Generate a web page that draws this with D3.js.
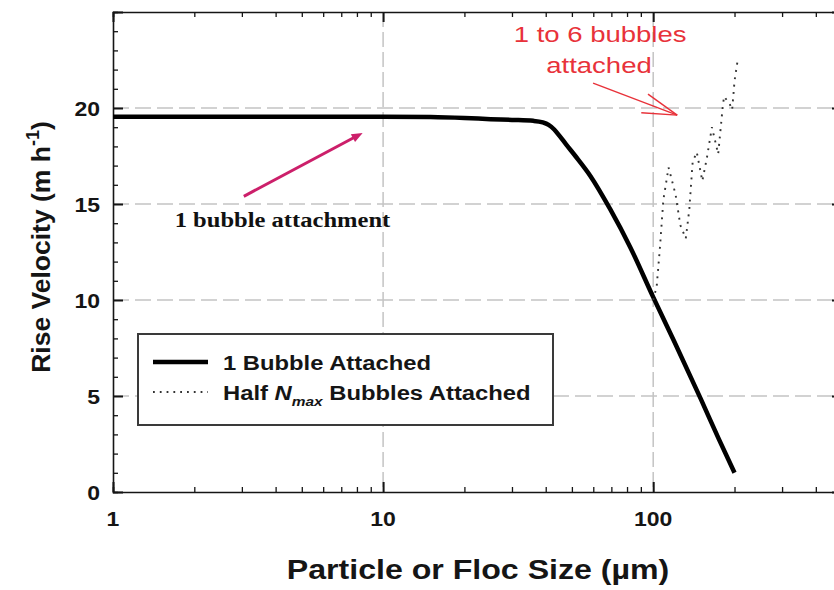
<!DOCTYPE html>
<html><head><meta charset="utf-8">
<script src="https://cdn.jsdelivr.net/npm/d3@7"></script>
<style>body{margin:0;background:#fff} svg{display:block}</style>
</head><body><svg id="c" width="834" height="590"></svg>
<script>
// ---- data ----
const oneBubbleX = [1, 2, 5, 10, 15, 20, 25, 30, 36, 39, 41, 43, 45, 47.5, 51.5, 58.6, 69.3, 82.3, 100, 120, 150, 175, 200];
const oneBubbleY = [19.55, 19.55, 19.55, 19.55, 19.53, 19.48, 19.42, 19.38, 19.33, 19.25, 19.12, 18.88, 18.55, 18.12, 17.5, 16.45, 14.73, 12.74, 10.15, 7.8, 4.85, 2.75, 1.0];
const halfNmaxX = [100, 103, 106, 109, 114, 121, 126, 132, 136, 140, 145, 152, 158, 165, 174, 181, 183, 192, 196, 200, 205];
const halfNmaxY = [10.0, 10.7, 12.8, 15.2, 16.9, 15.5, 13.9, 13.2, 14.7, 17.2, 17.7, 16.2, 17.4, 19.0, 17.6, 20.1, 20.6, 20.2, 19.9, 21.4, 22.4];
const xTickLabels = [1, 10, 100];
const yTickLabels = [0, 5, 10, 15, 20];
const xGrid = [10, 100];
const yGrid = [5, 10, 15, 20];
const seriesNames = ["1 Bubble Attached", "Half N_max Bubbles Attached"];
const xTitle = "Particle or Floc Size (µm)";
const yTitle = "Rise Velocity (m h";
const noteBubble = "1 bubble attachment";
const noteRed = ["1 to 6 bubbles", "attached"];

// ---- setup ----
const svg = d3.select("#c");
const W = 834, H = 590;
const x = d3.scaleLog().domain([1, 500]).range([113, 842]);
const y = d3.scaleLinear().domain([0, 25]).range([492, 12]);
const SANS = "'Liberation Sans', Arial, Helvetica, sans-serif";
const SERIF = "'Liberation Serif', 'Times New Roman', serif";
const INK = "#151515";

function stext(parent, px, py, str, o) {
  const t = parent.append("text")
    .attr("transform", `translate(${px},${py}) scale(${o.sx || 1},1)`)
    .attr("text-anchor", o.anchor || "start")
    .style("font-family", o.family || SANS)
    .style("font-size", o.size + "px")
    .style("font-weight", o.weight || "bold")
    .attr("fill", o.fill || INK);
  if (str !== null) t.text(str);
  return t;
}

svg.append("rect").attr("width", W).attr("height", H).attr("fill", "#fff");

// gridlines
const grid = svg.append("g");
grid.selectAll("line.gx").data(xGrid).join("line")
  .attr("x1", d => x(d)).attr("x2", d => x(d)).attr("y1", y(25)).attr("y2", y(0))
  .attr("stroke", "#c4c4c4").attr("stroke-width", 1.5).attr("stroke-dasharray", "15,5");
grid.selectAll("line.gy").data(yGrid).join("line")
  .attr("x1", x(1)).attr("x2", x(500)).attr("y1", d => y(d)).attr("y2", d => y(d))
  .attr("stroke", "#c4c4c4").attr("stroke-width", 1.5).attr("stroke-dasharray", "16,6");

// axes with inward ticks
const xt = x.ticks();
const yt = d3.range(0, 26, 1);
const isMajX = d => Math.abs(Math.log10(d) - Math.round(Math.log10(d))) < 1e-9;
function styleAxis(g) {
  g.select(".domain").attr("stroke", INK).attr("stroke-width", 1.6);
  g.selectAll(".tick line").attr("stroke", INK).attr("stroke-width", 1.3);
  g.selectAll(".tick text").remove();
}
const gb = svg.append("g").attr("transform", `translate(0,${y(0)})`)
  .call(d3.axisBottom(x).tickValues(xt).tickSizeOuter(0).tickSize(-5));
styleAxis(gb);
gb.selectAll(".tick line").filter(d => isMajX(d)).attr("y2", -10).attr("stroke-width", 2);
const gt = svg.append("g").attr("transform", `translate(0,${y(25)})`)
  .call(d3.axisTop(x).tickValues(xt).tickSizeOuter(0).tickSize(-5));
styleAxis(gt);
gt.selectAll(".tick line").filter(d => isMajX(d)).attr("y2", 10).attr("stroke-width", 2);
const gl = svg.append("g").attr("transform", `translate(${x(1)},0)`)
  .call(d3.axisLeft(y).tickValues(yt).tickSizeOuter(0).tickSize(-5));
styleAxis(gl);
gl.selectAll(".tick line").filter(d => d % 5 === 0).attr("x2", 10).attr("stroke-width", 2);
const gr = svg.append("g").attr("transform", `translate(${x(500)},0)`)
  .call(d3.axisRight(y).tickValues(yt).tickSizeOuter(0).tickSize(-5));
styleAxis(gr);
gr.selectAll(".tick line").filter(d => d % 5 === 0).attr("x2", -10).attr("stroke-width", 2);

// tick labels
xTickLabels.forEach(d => stext(svg, x(d), y(0) + 34, String(d), {size: 20, anchor: "middle", sx: 1.15}));
yTickLabels.forEach(d => stext(svg, 100, y(d) + 7.5, String(d), {size: 20, anchor: "end", sx: 1.15}));

// axis titles
stext(svg, 478, 579, xTitle, {size: 27, anchor: "middle", sx: 1.19});
const yt1 = svg.append("text")
  .attr("transform", `translate(50,247) rotate(-90)`)
  .attr("text-anchor", "middle")
  .style("font-family", SANS).style("font-size", "26.5px").style("font-weight", "bold").attr("fill", INK);
yt1.append("tspan").text(yTitle);
yt1.append("tspan").attr("dy", -11).style("font-size", "18px").text("-1");
yt1.append("tspan").attr("dy", 11).text(")");

// series
const line = d3.line().x(d => x(d[0])).y(d => y(d[1])).curve(d3.curveMonotoneX);
const solid = oneBubbleX.map((v, i) => [v, oneBubbleY[i]]);
const dotted = halfNmaxX.map((v, i) => [v, halfNmaxY[i]]);
svg.append("path").attr("d", line(solid)).attr("fill", "none")
  .attr("stroke", "#000").attr("stroke-width", 4.5).attr("stroke-linejoin", "round");
svg.append("path").attr("d", d3.line().x(d => x(d[0])).y(d => y(d[1]))(dotted)).attr("fill", "none")
  .attr("stroke", "#333").attr("stroke-width", 1.9).attr("stroke-dasharray", "1.9,5.5");

// legend
const lg = svg.append("g");
lg.append("rect").attr("x", 138).attr("y", 334).attr("width", 415).attr("height", 91)
  .attr("fill", "#fff").attr("stroke", "#3a3a3a").attr("stroke-width", 2);
lg.append("line").attr("x1", 153).attr("x2", 208).attr("y1", 362).attr("y2", 362)
  .attr("stroke", "#000").attr("stroke-width", 4.5);
lg.append("line").attr("x1", 153).attr("x2", 208).attr("y1", 392).attr("y2", 392)
  .attr("stroke", "#333").attr("stroke-width", 1.8).attr("stroke-dasharray", "1.8,5");
stext(lg, 223, 370, seriesNames[0], {size: 20, sx: 1.19});
const l2 = stext(lg, 223, 400, null, {size: 20, sx: 1.19});
l2.append("tspan").text("Half ");
l2.append("tspan").style("font-style", "italic").text("N");
l2.append("tspan").style("font-style", "italic").style("font-size", "13px").attr("dy", 6).text("max");
l2.append("tspan").attr("dy", -6).text(" Bubbles Attached");

// annotations
const ma = [[3.05, 15.4], [8.4, 18.7]];
const p0 = [x(ma[0][0]), y(ma[0][1])], p1 = [x(ma[1][0]), y(ma[1][1])];
const ang = Math.atan2(p1[1] - p0[1], p1[0] - p0[0]);
const MAG = "#cc1f6a";
svg.append("line").attr("x1", p0[0]).attr("y1", p0[1])
  .attr("x2", p1[0] - 6 * Math.cos(ang)).attr("y2", p1[1] - 6 * Math.sin(ang))
  .attr("stroke", MAG).attr("stroke-width", 3);
const ah = 11, aw = 4.5;
const bx = p1[0] - ah * Math.cos(ang), by = p1[1] - ah * Math.sin(ang);
svg.append("path").attr("d", `M${p1[0]},${p1[1]} L${bx + aw * Math.sin(ang)},${by - aw * Math.cos(ang)} L${bx - aw * Math.sin(ang)},${by + aw * Math.cos(ang)} Z`)
  .attr("fill", MAG);
stext(svg, x(4.24), y(13.79), noteBubble, {size: 21, family: SERIF, anchor: "middle", sx: 1.17, fill: "#111"});

const RED = "#e8323a";
const ra = [[59.9, 21.3], [122.7, 19.63]];
const r0 = [x(ra[0][0]), y(ra[0][1])], r1 = [x(ra[1][0]), y(ra[1][1])];
const rang = Math.atan2(r1[1] - r0[1], r1[0] - r0[0]);
svg.append("line").attr("x1", r0[0]).attr("y1", r0[1]).attr("x2", r1[0]).attr("y2", r1[1])
  .attr("stroke", RED).attr("stroke-width", 1.4);
[0.26, -0.3].forEach(da => {
  const a = rang + Math.PI + da;
  svg.append("line").attr("x1", r1[0]).attr("y1", r1[1])
    .attr("x2", r1[0] + 36 * Math.cos(a)).attr("y2", r1[1] + 36 * Math.sin(a))
    .attr("stroke", RED).attr("stroke-width", 1.4);
});
stext(svg, x(63.6), y(23.45), noteRed[0], {size: 22, weight: "normal", anchor: "middle", sx: 1.25, fill: RED});
stext(svg, x(63.0), y(21.83), noteRed[1], {size: 22, weight: "normal", anchor: "middle", sx: 1.25, fill: RED});
</script></body></html>
